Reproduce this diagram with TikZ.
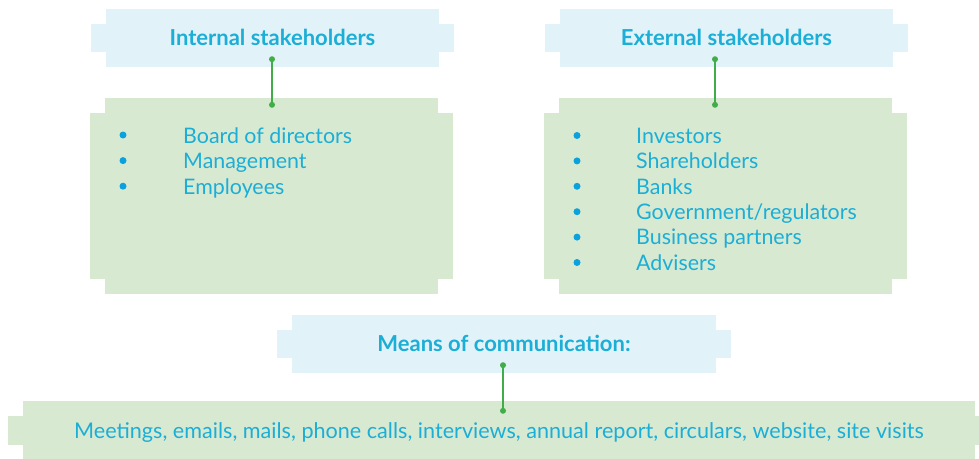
\documentclass[tikz,border=0pt]{standalone}
\usepackage{fontspec}
\setmainfont{Lato}
\usetikzlibrary{backgrounds}
\definecolor{headBlue}{RGB}{225,242,249}
\definecolor{bodyGreen}{RGB}{216,233,210}
\definecolor{textCyan}{RGB}{27,174,214}
\definecolor{dotCyan}{RGB}{10,162,220}
\definecolor{linkGreen}{RGB}{64,173,73}

\tikzset{
  headbox/.style={fill=headBlue, inner sep=0pt, text=textCyan,
    font=\fontsize{22}{26}\selectfont\bfseries, text height=15.5pt, text depth=0pt},
  bodybox/.style={fill=bodyGreen, inner sep=0pt, text=textCyan,
    font=\fontsize{21.6}{26}\selectfont, text height=15.3pt, text depth=0pt},
  item/.style={text=textCyan, font=\fontsize{21.4}{26}\selectfont, inner sep=0pt, anchor=base west},
  link/.style={linkGreen, line width=1.5pt},
}
% side tabs behind a box
\newcommand{\wings}[2]{\fill[#2] ([xshift=-15pt,yshift=-15pt]#1.north west) rectangle ([xshift=15pt,yshift=15pt]#1.south east);}

\begin{document}
\begin{tikzpicture}[x=1pt,y=-1pt]
  \useasboundingbox (0,0) rectangle (979,458);

  % headers
  \node[headbox, minimum width=333pt, minimum height=58pt] (inthead) at (272.5,38) {Internal stakeholders};
  \node[headbox, minimum width=333pt, minimum height=58pt] (exthead) at (726.5,38) {External stakeholders};
  \node[headbox, minimum width=424pt, minimum height=58pt] (means) at (504,344) {Means of communication:};

  % bodies
  \node[bodybox, minimum width=333pt, minimum height=196pt] (intbody) at (271.5,196) {};
  \node[bodybox, minimum width=333pt, minimum height=196pt] (extbody) at (725.5,196) {};
  \node[bodybox, minimum width=952pt, minimum height=59pt] (meansbody) at (499,430.5)
    {Meetings, emails, mails, phone calls, interviews, annual report, circulars, website, site visits};

  \begin{scope}[on background layer]
    \wings{inthead}{headBlue}
    \wings{exthead}{headBlue}
    \wings{means}{headBlue}
    \wings{intbody}{bodyGreen}
    \wings{extbody}{bodyGreen}
    \wings{meansbody}{bodyGreen}
  \end{scope}

  % lists
  \foreach \t [count=\i from 0] in {Board of directors, Management, Employees} {
    \fill[dotCyan] (123,135+25.6*\i) circle[radius=3.5pt];
    \node[item] (intitem\i) at (183,143+25.6*\i) {\t};
  }
  \foreach \t [count=\i from 0] in {Investors, Shareholders, Banks, Government/regulators, Business partners, Advisers} {
    \fill[dotCyan] (577,135.5+25.4*\i) circle[radius=3.5pt];
    \node[item] (extitem\i) at (636,143.3+25.4*\i) {\t};
  }

  % connectors
  \coordinate (a1) at ([xshift=-0.5pt,yshift=8pt]inthead.south);
  \coordinate (b1) at ([yshift=-7pt]a1 |- intbody.north);
  \coordinate (a2) at ([xshift=-11.5pt,yshift=8pt]exthead.south);
  \coordinate (b2) at ([yshift=-7pt]a2 |- extbody.north);
  \coordinate (a3) at ([xshift=-1pt,yshift=8pt]means.south);
  \coordinate (b3) at ([yshift=-10pt]a3 |- meansbody.north);
  \foreach \s/\e in {a1/b1, a2/b2, a3/b3} {
    \draw[link] (\s) -- (\e);
    \fill[linkGreen] (\s) circle[radius=3pt] (\e) circle[radius=3pt];
  }
\end{tikzpicture}
\end{document}
